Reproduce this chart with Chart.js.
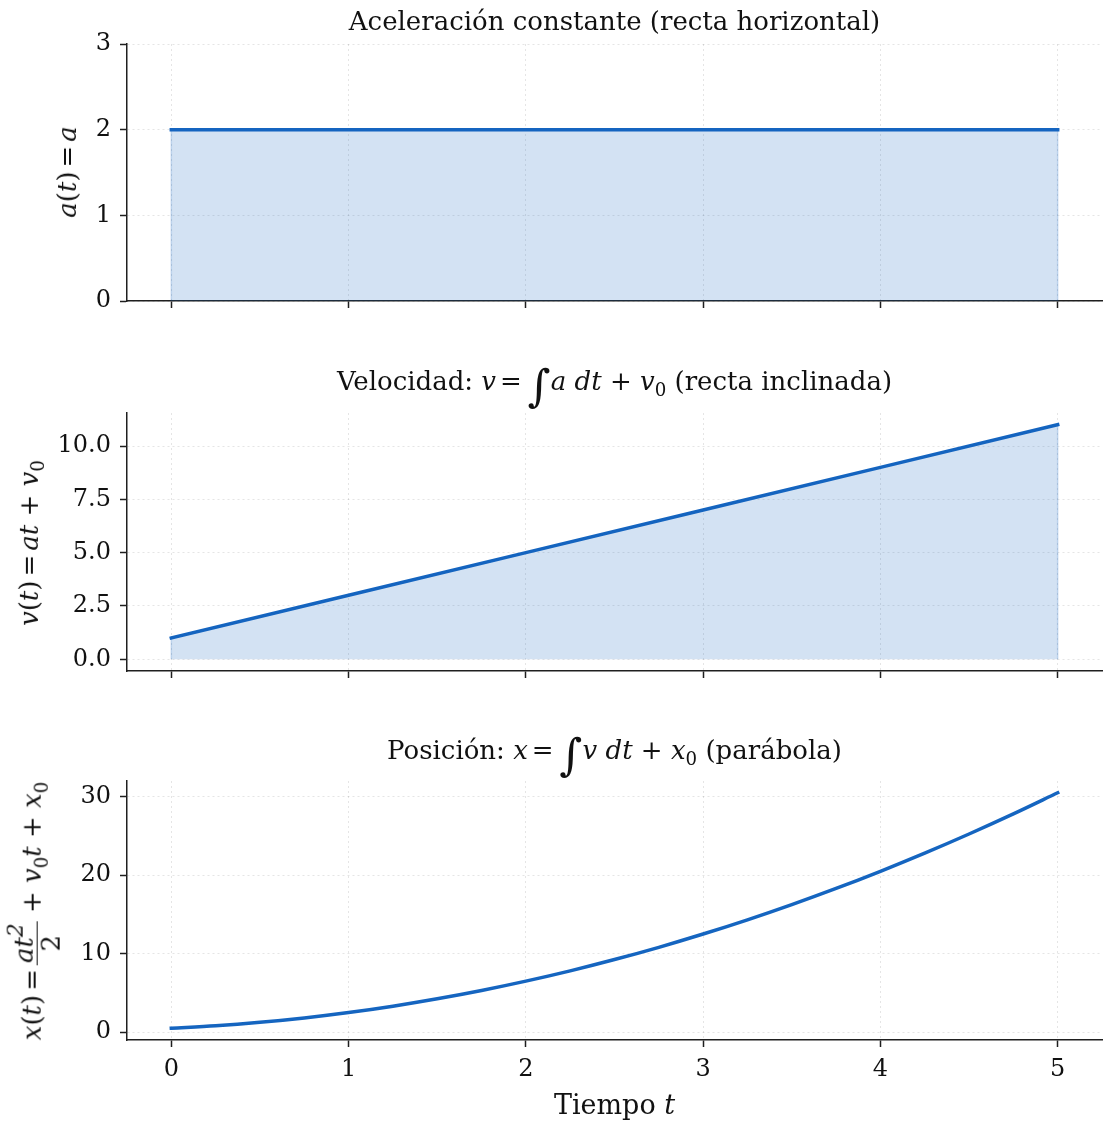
<!DOCTYPE html>
<html>
<head>
<meta charset="utf-8">
<script src="https://cdn.jsdelivr.net/npm/chart.js@4.4.1/dist/chart.umd.min.js"></script>
<style>
  body { margin: 0; background: #fff; }
  #fig { position: relative; width: 1110px; height: 1130px; font-family: 'DejaVu Serif', serif; color: #111; }
  #fig canvas { position: absolute; left: 0; }
  .title { position: absolute; left: 127px; width: 975px; text-align: center; font-size: 26px; line-height: 30px; white-space: nowrap; }
  .ylab { position: absolute; transform: translate(-50%, -50%) rotate(-90deg); font-size: 26px; white-space: nowrap; }
  .xlab { position: absolute; left: 127px; width: 975px; text-align: center; font-size: 27px; line-height: 32px; }
  .m { font-style: italic; }
  .sp { margin: 0 4px; }
  .int { font-size: 44px; font-style: italic; vertical-align: -11px; margin: 0 0 0 2px; line-height: 10px; }
  .frac { display: inline-block; vertical-align: middle; text-align: center; line-height: 1; }
  .frac span { display: block; padding: 0 2px; }
  .frac .num { border-bottom: 1.5px solid #111; }
  sub { font-size: 70%; }
</style>
</head>
<body>
<div id="fig">
  <canvas id="cAcc" width="1110" height="340" style="top:0px"></canvas>
  <canvas id="cVel" width="1110" height="370" style="top:340px"></canvas>
  <canvas id="cPos" width="1110" height="420" style="top:710px"></canvas>

  <div class="title" style="top:6px">Aceleración constante (recta horizontal)</div>
  <div class="title" style="top:366px">Velocidad: <span class="m">v</span><span class="sp">=</span><span class="int">∫</span><span class="m">a dt</span> + <span class="m">v</span><sub>0</sub> (recta inclinada)</div>
  <div class="title" style="top:735px">Posición: <span class="m">x</span><span class="sp">=</span><span class="int">∫</span><span class="m">v dt</span> + <span class="m">x</span><sub>0</sub> (parábola)</div>

  <div class="ylab" style="left:67px; top:172px"><span class="m">a</span>(<span class="m">t</span>)<span class="sp">=</span><span class="m">a</span></div>
  <div class="ylab" style="left:31px; top:543px"><span class="m">v</span>(<span class="m">t</span>)<span class="sp">=</span><span class="m">at</span> + <span class="m">v</span><sub>0</sub></div>
  <div class="ylab" style="left:34px; top:911px"><span class="m">x</span>(<span class="m">t</span>)<span class="sp">=</span><span class="frac"><span class="num m">at<sup>2</sup></span><span>2</span></span> + <span class="m">v</span><sub>0</sub><span class="m">t</span> + <span class="m">x</span><sub>0</sub></div>

  <div class="xlab" style="top:1089px">Tiempo <span class="m">t</span></div>
</div>

<script>
// ── Data ───────────────────────────────────────────────────
const tVals   = [0, 1, 2, 3, 4, 5];
const accVals = [2, 2, 2, 2, 2, 2];
const velVals = [1, 3, 5, 7, 9, 11];
const posT    = [0, 0.25, 0.5, 0.75, 1, 1.25, 1.5, 1.75, 2, 2.25, 2.5, 2.75, 3, 3.25, 3.5, 3.75, 4, 4.25, 4.5, 4.75, 5];
const posVals = [0.5, 0.81, 1.25, 1.81, 2.5, 3.31, 4.25, 5.31, 6.5, 7.81, 9.25, 10.81, 12.5, 14.31, 16.25, 18.31, 20.5, 22.81, 25.25, 27.81, 30.5];

const xTicks   = [0, 1, 2, 3, 4, 5];
const accTicks = [0, 1, 2, 3];
const velTicks = [0, 2.5, 5, 7.5, 10];
const posTicks = [0, 10, 20, 30];

// ── Style ──────────────────────────────────────────────────
const C = {
  line: '#1565c0',
  fill: 'rgba(21,101,192,0.19)',
  edge: 'rgba(21,101,192,0.22)',
  grid: 'rgba(0,0,0,0.10)',
  axis: '#1f1f1f',
  text: '#111',
  font: "'DejaVu Serif', serif",
};

function pts(xs, ys) { return xs.map((x, i) => ({ x, y: ys[i] })); }

function mkPanel(id, cfg) {
  const data = pts(cfg.xs, cfg.ys);
  const datasets = [];
  if (cfg.fill) {
    // shaded area under the curve, with its faint outline
    const last = cfg.xs[cfg.xs.length - 1];
    datasets.push({
      data: [{ x: cfg.xs[0], y: 0 }, ...data, { x: last, y: 0 }],
      borderColor: C.edge, borderWidth: 1.5, backgroundColor: C.fill,
      fill: 'origin', pointRadius: 0, tension: 0,
    });
  }
  datasets.push({
    data, borderColor: C.line, borderWidth: 3.5, borderCapStyle: 'square',
    pointRadius: 0, fill: false,
    cubicInterpolationMode: cfg.smooth ? 'monotone' : 'default',
  });

  const tickFont = { family: C.font, size: 24 };
  return new Chart(document.getElementById(id), {
    type: 'line',
    data: { datasets },
    options: {
      responsive: false, animation: false, events: [],
      layout: { padding: { top: cfg.padTop, right: 8, left: 0, bottom: 0 } },
      plugins: { legend: { display: false }, tooltip: { enabled: false } },
      scales: {
        x: {
          type: 'linear', min: -0.25, max: 5.25,
          afterBuildTicks: s => { s.ticks = xTicks.map(v => ({ value: v })); },
          afterFit: s => { s.height = cfg.axisH; },
          grid: { color: C.grid, tickColor: C.axis, tickLength: 7, tickWidth: 1.5 },
          border: { color: C.axis, width: 1.5, dash: [2, 3] },
          ticks: { display: !!cfg.xLabels, padding: 8, font: tickFont, color: C.text, maxRotation: 0 },
        },
        y: {
          type: 'linear', min: cfg.yMin, max: cfg.yMax,
          afterBuildTicks: s => { s.ticks = cfg.yTicks.map(v => ({ value: v })); },
          afterFit: s => { s.width = 127; },
          grid: { color: C.grid, tickColor: C.axis, tickLength: 7, tickWidth: 1.5 },
          border: { color: C.axis, width: 1.5, dash: [2, 3] },
          ticks: { padding: 9, font: tickFont, color: C.text, callback: cfg.fmt },
        },
      },
    },
  });
}

mkPanel('cAcc', { xs: tVals, ys: accVals, fill: true, padTop: 44, axisH: 39,
  yMin: 0, yMax: 3, yTicks: accTicks, fmt: v => String(v) });
mkPanel('cVel', { xs: tVals, ys: velVals, fill: true, padTop: 73, axisH: 39,
  yMin: -0.55, yMax: 11.55, yTicks: velTicks, fmt: v => v.toFixed(1) });
mkPanel('cPos', { xs: posT, ys: posVals, smooth: true, padTop: 71, axisH: 90, xLabels: true,
  yMin: -1, yMax: 32, yTicks: posTicks, fmt: v => String(v) });
</script>
</body>
</html>
